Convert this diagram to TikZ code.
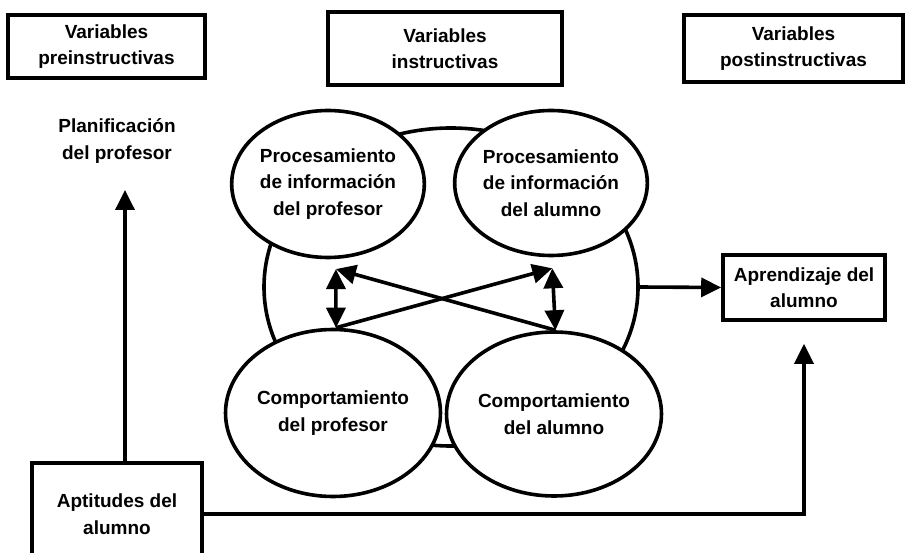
\documentclass[tikz,border=0pt]{standalone}
\usepackage{fontspec}
\setmainfont{Liberation Sans}
\usetikzlibrary{shapes.geometric,arrows.meta,calc}
\tikzset{
  lbl/.style={font=\bfseries\fontsize{19}{26.5}\selectfont, align=center},
  boxnode/.style={lbl, draw, line width=3.6pt, rectangle, inner sep=0pt},
  oval/.style={lbl, draw, line width=3.6pt, ellipse, inner sep=0pt, fill=white},
  conn/.style={line width=3.6pt},
  arr/.style={conn, -{Triangle[length=20pt,width=19pt]}},
  dbl/.style={conn, {Triangle[length=20pt,width=19pt]}-{Triangle[length=20pt,width=19pt]}}
}
\begin{document}
\begin{tikzpicture}[x=1pt,y=-1pt]
\clip (0,0) rectangle (908,553);
\fill[white] (0,0) rectangle (908,553);
% header boxes
\node[boxnode, minimum width=197pt, minimum height=63pt] (b1) at (106.5,46.5) {Variables\\preinstructivas};
\node[boxnode, minimum width=234pt, minimum height=73pt] (b2) at (445,48.5) {Variables\\instructivas};
\node[boxnode, minimum width=219pt, minimum height=67pt] (b3) at (793.5,48.5) {Variables\\postinstructivas};
% left text
\node[lbl] (plan) at (117,141) {Planificación\\del profesor};
% big background ellipse
\node[draw, line width=3.6pt, ellipse, inner sep=0pt, minimum width=374pt, minimum height=318pt] (inst) at (451,287) {};
% four ovals
\node[oval, minimum width=184pt, minimum height=147pt] (c1) at (328,184) {Procesamiento\\de información\\del profesor};
\node[oval, minimum width=192pt, minimum height=145pt] (c2) at (551,183) {Procesamiento\\de información\\del alumno};
\node[oval, minimum width=202pt, minimum height=167pt] (c3) at (333,413) {Comportamiento\\del profesor};
\node[oval, minimum width=202pt, minimum height=164pt] (c4) at (554,414) {Comportamiento\\del alumno};
% right and bottom boxes
\node[boxnode, minimum width=162pt, minimum height=65pt] (apr) at (804,287.5) {Aprendizaje del\\alumno};
\node[boxnode, minimum width=170pt, minimum height=102pt] (apt) at (117,514) {Aptitudes del\\alumno};
% connectors
\coordinate (lt) at ($(c1.-84)+(0,10)$);
\coordinate (rt) at ($(c2.-89)+(0,11)$);
\coordinate (pt) at (125,190);
\draw[dbl] (lt) -- (c3.88);
\draw[dbl] (rt) -- (c4.89);
\draw[arr] (c3.88) -- (rt);
\draw[arr] (c4.89) -- (lt);
\draw[arr] (inst.east) -- (apr.west);
\draw[arr] (apt.north -| pt) -- (pt);
\draw[arr, shorten >=22pt] (apt.east) -| (apr.south);
\end{tikzpicture}
\end{document}
